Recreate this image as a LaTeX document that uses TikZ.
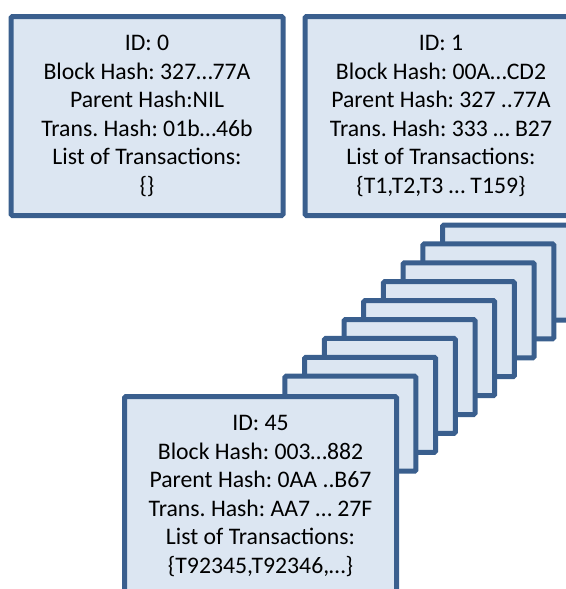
\documentclass[tikz,border=0pt]{standalone}
\usepackage{fontspec}
\setmainfont{Carlito}
\usetikzlibrary{positioning}
\definecolor{bordbleu}{HTML}{3A5F8E}
\definecolor{fondbleu}{HTML}{DCE6F2}
\frenchspacing

\begin{document}
\begin{tikzpicture}[x=0.75pt,y=-0.75pt,
    bloc/.style={draw=bordbleu, fill=fondbleu, line width=3.75pt, rounded corners=1pt,
      align=center, inner sep=0pt, minimum width=204pt, minimum height=149.25pt,
      font=\fontsize{17.8}{21.4}\selectfont},
    petit/.style={bloc, minimum width=98.25pt, minimum height=71.25pt}]
    \useasboundingbox (0,0) rectangle (566,589);
    \clip (0,0) rectangle (566,589);

    % Les deux premiers blocs
    \node[bloc] (b0) at (147,116) {ID: 0\\Block Hash: 327\ldots77A\\Parent Hash:NIL\\Trans. Hash: 01b\ldots46b\\List of Transactions:\\\{\}};
    \node[bloc, right=12.75pt of b0] (b1) {ID: 1\\Block Hash: 00A\ldots CD2\\Parent Hash: 327 ..77A\\Trans. Hash: 333 \ldots{} B27\\List of Transactions:\\\{T1,T2,T3 \ldots{} T159\}};

    % La pile des blocs intermediaires
    \foreach \k in {0,...,8}
        \node[petit] (s\k) at (508-19.7*\k, 272.5+18.9*\k) {};

    % Le dernier bloc
    \node[bloc] (b45) at (260.5,496) {ID: 45\\Block Hash: 003\ldots882\\Parent Hash: 0AA ..B67\\Trans. Hash: AA7 \ldots{} 27F\\List of Transactions:\\\{T92345,T92346,\ldots\}};
\end{tikzpicture}
\end{document}
